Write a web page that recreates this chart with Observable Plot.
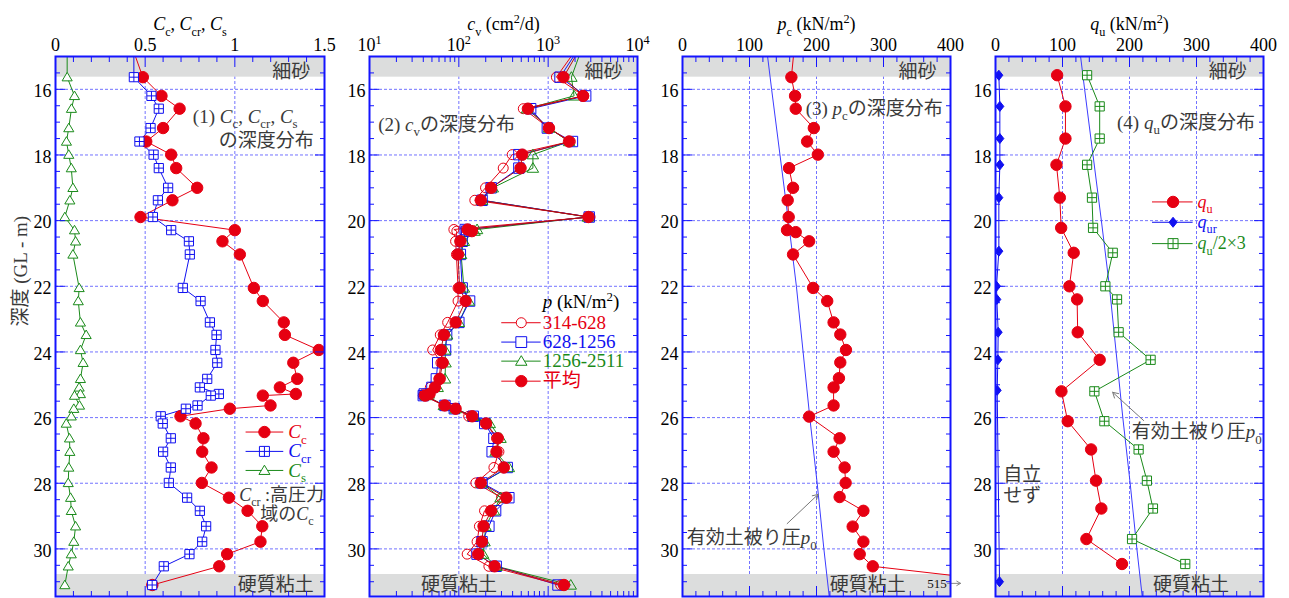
<!DOCTYPE html>
<html><head><meta charset="utf-8">
<script src="https://cdn.jsdelivr.net/npm/d3@7"></script>
<script src="https://cdn.jsdelivr.net/npm/@observablehq/plot@0.6"></script>
<style>
body{margin:0;background:#fff;}
#wrap{position:relative;width:1289px;height:598px;overflow:hidden;background:#fff;font-family:"Liberation Serif","Noto Sans CJK JP",serif;}
#wrap svg{position:absolute;top:0;font-family:"Liberation Serif","Noto Sans CJK JP",serif !important;}
</style></head><body><div id="wrap"></div>
<script>
// ---------------- data ----------------
const yTickLabels = [16, 18, 20, 22, 24, 26, 28, 30];
const bands = [{y1: 15, y2: 15.63, name: "細砂"}, {y1: 30.78, y2: 31.45, name: "硬質粘土"}];

// panel 1 : Cc, Ccr, Cs
const depth1 = [14.6,15.63,16.2,16.59,17.18,17.59,17.99,18.4,19.0,19.38,19.89,20.29,20.63,21.03,22.05,22.45,23.1,23.48,23.94,24.33,24.82,25.08,25.28,25.33,25.63,25.73,25.96,26.18,26.63,27.04,27.52,27.99,28.44,28.84,29.31,29.78,30.16,30.53,31.1];
const Cc  = [0.42,0.487,0.591,0.692,0.60,0.506,0.645,0.673,0.79,0.652,0.474,1.0,0.931,1.028,1.106,1.156,1.273,1.279,1.468,1.326,1.348,1.251,1.34,1.156,1.199,0.972,0.697,0.781,0.825,0.818,0.87,0.816,0.967,1.071,1.153,1.143,0.957,0.913,0.54];
const Ccr = [0.437,0.437,0.535,0.576,0.53,0.468,0.547,0.576,0.628,0.571,0.543,0.645,0.744,0.749,0.71,0.809,0.861,0.898,0.892,0.902,0.846,0.805,0.911,0.866,0.792,0.727,0.587,0.598,0.643,0.60,0.643,0.632,0.734,0.805,0.84,0.818,0.747,0.604,0.539];
const Cs  = [0.065,0.065,0.106,0.089,0.074,0.061,0.074,0.088,0.097,0.08,0.052,0.106,0.112,0.097,0.132,0.127,0.139,0.171,0.139,0.154,0.139,0.132,0.139,0.106,0.134,0.102,0.088,0.06,0.078,0.08,0.074,0.071,0.084,0.088,0.112,0.102,0.088,0.071,0.052];

// panel 2 : cv (cm2/d)
const depth2 = [14.6,15.63,16.2,16.59,17.18,17.59,17.99,18.4,19.0,19.38,19.89,20.27,20.32,20.63,21.03,22.05,22.45,23.1,23.48,23.94,24.33,24.82,25.08,25.28,25.33,25.63,25.73,25.96,26.18,26.63,27.04,27.52,27.99,28.44,28.84,29.31,29.78,30.16,30.53,31.1];
const cv314  = [2300,1236,2500,527,1021,1770,396,314,199,151,2943,88,95,92,94,98,98,75,62,51,63,60,48,41,40,68,92,129,202,264,281,247,155,300,194,170,160,124,217,1380];
const cv628  = [2400,1357,2630,637,979,1870,470,470,230,182,2880,118,122,109,104,109,132,100,73,71,58,56,50,41,40,70,89,145,195,247,236,348,182,363,258,217,182,160,262,1288];
const cv1256 = [2500,1820,1950,580,1021,1713,675,675,240,182,2780,160,150,114,106,114,129,100,74,70,71,70,58,46,43,68,92,145,222,293,258,363,178,293,247,199,194,187,264,1790];
const cvAvg  = [2450,1483,2460,593,1021,1713,513,491,230,176,2826,125,140,104,98,102,119,92,68,63,66,61,54,47,42,69.5,92,141,202,273,264,319,176,340,230,189,181,165,251,1503];
const cvSeries = ["314-628", "628-1256", "1256-2511", "平均"];

// panel 3 : pc
const depth3 = [14.6,15.63,16.2,16.59,17.18,17.59,17.99,18.4,19.0,19.38,19.89,20.29,20.35,20.63,21.03,22.05,22.45,23.1,23.47,23.94,24.32,24.8,25.08,25.63,25.97,26.63,27.04,27.52,27.99,28.42,28.84,29.32,29.78,30.16,30.53,31.07];
const pc = [167.5,162.5,168,169,196,186,202,159,165,157,158.5,156,169,189,165,195,216,225.5,235.5,244,235.5,233.5,225.5,225.5,189,234.5,225.5,242,243.5,234.5,270,254,270,264.5,284,515];

// effective overburden pressure p0
const p0Depth = [15,16,18,20,22,24,26,28,30,31.45];
const p0 = [127,133,145.5,158,170,180,190,201,211,219];

// panel 4 : qu
const depth4 = [15.57,16.52,17.5,18.3,19.3,20.22,20.98,22.0,22.4,23.4,24.24,25.2,26.11,26.97,27.92,28.77,29.7,30.46];
const qu = [92,104.4,104.4,91,96,98,116.7,110.3,121.8,122.7,155.5,98.4,107.8,142.7,150,158,135.7,188.8];
const quHalf3 = [136.7,155.5,155.5,136.7,144,145.6,175,164,181.4,183.8,231.5,147.6,162.5,213.6,226,235,203.8,283.2];
const depthQur = [15.57,16.52,17.5,18.3,19.3,20.93,22.0,22.4,23.4,24.24,25.17,31.0];
const qur = [5,6.5,6.5,6.5,5,5,1.5,2,4,3.5,2.5,6];

// ---------------- styles ----------------
const FONT = '"Liberation Serif","Noto Sans CJK JP",serif';
const RED = "#e60012", BLUE = "#1010f0", GREEN = "#1a8a1a", GRIDC = "#5a5aff", FRAMEC = "#1414ff", BAND = "#dcdddd", TXT = "#3a3a3a";
const H = 598, MT = 56, MB = 2, ML = 55, MR = 30;
const yDomain = [15, 31.45];
const yMinor = d3.range(15, 31.01, 0.5).filter(v => !yTickLabels.includes(v));
const gridStyle = {stroke: GRIDC, strokeOpacity: 0.85, strokeWidth: 1, strokeDasharray: "3,2"};

const sq = r => c => {c.moveTo(-r,-r);c.lineTo(r,-r);c.lineTo(r,r);c.lineTo(-r,r);c.closePath();};
const symSqPlus = {draw(c, s){const r = Math.sqrt(s/Math.PI); sq(r)(c); c.moveTo(-r,0);c.lineTo(r,0);c.moveTo(0,-r);c.lineTo(0,r);}};
const symSq = {draw(c, s){const r = Math.sqrt(s/Math.PI); sq(r)(c);}};
const symTri = {draw(c, s){const r = Math.sqrt(s/Math.PI); c.moveTo(0,-r*1.05);c.lineTo(r*1.1,r*0.8);c.lineTo(-r*1.1,r*0.8);c.closePath();}};
const symDia = {draw(c, s){const r = Math.sqrt(s/Math.PI); c.moveTo(0,-r);c.lineTo(r*0.8,0);c.lineTo(0,r);c.lineTo(-r*0.8,0);c.closePath();}};

function deco({xMajor, xMinor, xLabelTicks, xFmt, title}) {
  const tk = (axis, anchor, ticks, size) => axis({anchor, ticks, tickSize: -size, tickFormat: () => "", stroke: FRAMEC, strokeWidth: 1, label: null});
  return [
    Plot.frame({stroke: FRAMEC, strokeWidth: 2}),
    tk(Plot.axisX, "top", xMajor, 10), tk(Plot.axisX, "top", xMinor, 5),
    tk(Plot.axisX, "bottom", xMajor, 10), tk(Plot.axisX, "bottom", xMinor, 5),
    tk(Plot.axisY, "left", yTickLabels, 10), tk(Plot.axisY, "left", yMinor, 5),
    tk(Plot.axisY, "right", yTickLabels, 10), tk(Plot.axisY, "right", yMinor, 5),
    Plot.axisX({anchor: "top", ticks: xLabelTicks, tickSize: 0, tickPadding: 6, tickFormat: xFmt, fontSize: 18, fontFamily: FONT, fill: "#000", label: null}),
    Plot.axisY({anchor: "left", ticks: yTickLabels, tickSize: 0, tickPadding: 4, fontSize: 18, fontFamily: FONT, fill: "#000", label: null, dy: 2}),
    Plot.text([title], {text: d => d, frameAnchor: "top", dy: -39, fontSize: 18, fontFamily: FONT, fill: "#000"})
  ];
}
const txt = (s, x, y, o = {}) => Plot.text([s], {text: d => d, x, y, fontSize: 19, fontFamily: FONT, fill: TXT, ...o});

function common(frameW, x) {
  return {width: ML + frameW + MR, height: H, marginLeft: ML, marginRight: MR, marginTop: MT, marginBottom: MB,
    style: {background: "transparent", overflow: "visible"}, x, y: {domain: yDomain, reverse: true}};
}
function leg(rows, x1, x2, xm, tdx, fs) {
  return rows.flatMap(([label, color, y, sym, fill, r]) => [
    Plot.link([0], {x1, x2, y1: y, y2: y, stroke: color, strokeWidth: 1}),
    Plot.dot([0], {x: xm, y, symbol: sym, fill, stroke: color, strokeWidth: 1, r}),
    Plot.text([label], {text: d => d, x: x2, y, dx: tdx, textAnchor: "start", fill: color, fontSize: fs, fontFamily: FONT})
  ]);
}
const ln = (data, xv, color, o = {}) => Plot.line(data, {x: (d, i) => xv[i], y: d => d, stroke: color, strokeWidth: 1, clip: true, ...o});
const pts = (data, xv, o) => Plot.dot(data, {x: (d, i) => xv[i], y: d => d, clip: true, strokeWidth: 1, ...o});

// ---------------- panel 1 ----------------
const p1 = Plot.plot({...common(269, {domain: [0, 1.5]}), marks: [
  Plot.gridX({ticks: [0.5, 1], ...gridStyle}), Plot.gridY({ticks: yTickLabels, ...gridStyle}),
  Plot.rect(bands, {x1: 0, x2: 1.5, y1: "y1", y2: "y2", fill: BAND}),
  ln(depth1, Cs, GREEN), ln(depth1, Cc, RED), ln(depth1, Ccr, BLUE),
  pts(depth1, Cc, {symbol: "circle", r: 5.7, fill: RED, stroke: RED}),
  pts(depth1, Ccr, {symbol: symSqPlus, r: 4.6, fill: "white", stroke: BLUE}),
  pts(depth1, Cs, {symbol: symTri, r: 4.6, fill: "white", stroke: GREEN}),
  txt("細砂", 1.42, 15.48, {textAnchor: "end"}), txt("硬質粘土", 1.44, 31.1, {textAnchor: "end"}),
  txt("(1) <i>C</i><sub>c</sub>, <i>C</i><sub>cr</sub>, <i>C</i><sub>s</sub>", 1.35, 16.83, {textAnchor: "end"}),
  txt("の深度分布", 1.44, 17.56, {textAnchor: "end"}),
  ...leg([["<i>C</i><sub>c</sub>", RED, 26.44, "circle", RED, 5.7],
          ["<i>C</i><sub>cr</sub>", BLUE, 27.03, symSqPlus, "white", 5],
          ["<i>C</i><sub>s</sub>", GREEN, 27.61, symTri, "white", 5]], 1.06, 1.27, 1.165, 5, 19),
  txt("<i>C</i><sub>cr</sub> :高圧力", 1.024, 28.36, {textAnchor: "start", fontSize: 18}),
  txt("域の<i>C</i><sub>c</sub>", 1.44, 28.94, {textAnchor: "end", fontSize: 18}),
  Plot.text(["深度 (GL - m)"], {text: d => d, frameAnchor: "left", rotate: -90, dx: -35, fontSize: 19, fontFamily: FONT, fill: TXT}),
  ...deco({xMajor: [0, 0.5, 1, 1.5], xMinor: d3.range(0.1, 1.45, 0.1).filter(v => Math.abs(v - 0.5) > 1e-6 && Math.abs(v - 1) > 1e-6),
           xLabelTicks: [0, 0.5, 1, 1.5], xFmt: d => String(d), title: "<i>C</i><sub>c</sub>, <i>C</i><sub>cr</sub>, <i>C</i><sub>s</sub>"})
]});

// ---------------- panel 2 ----------------
const logMinor = [1, 2, 3].flatMap(e => d3.range(2, 10).map(k => k * 10 ** e));
const p2 = Plot.plot({...common(268, {type: "log", domain: [10, 10000]}), marks: [
  Plot.gridX({ticks: [100, 1000], ...gridStyle}), Plot.gridY({ticks: yTickLabels, ...gridStyle}),
  Plot.rect(bands, {x1: 10, x2: 10000, y1: "y1", y2: "y2", fill: BAND}),
  ln(depth2, cv1256, GREEN), ln(depth2, cv628, BLUE), ln(depth2, cv314, RED), ln(depth2, cvAvg, "#b01010"),
  pts(depth2, cv314, {symbol: "circle", r: 5, fill: "none", stroke: RED}),
  pts(depth2, cv628, {symbol: symSq, r: 5.2, fill: "none", stroke: BLUE}),
  pts(depth2, cv1256, {symbol: symTri, r: 5.2, fill: "none", stroke: GREEN}),
  pts(depth2, cvAvg, {symbol: "circle", r: 5.7, fill: RED, stroke: RED}),
  txt("細砂", 6800, 15.48, {textAnchor: "end"}), txt("硬質粘土", 37.8, 31.1, {textAnchor: "start"}),
  txt("(2) <i>c</i><sub>v</sub>の深度分布", 12.5, 17.07, {textAnchor: "start"}),
  txt("<i>p</i> (kN/m<sup>2</sup>)", 824, 22.48, {textAnchor: "start", dx: 2, fill: "#000"}),
  ...leg([[cvSeries[0], RED, 23.11, "circle", "white", 5],
          [cvSeries[1], BLUE, 23.70, symSq, "white", 5.4],
          [cvSeries[2], GREEN, 24.28, symTri, "white", 5.2],
          [cvSeries[3], RED, 24.89, "circle", RED, 5.7]], 298.5, 824, 500, 2, 19),
  ...deco({xMajor: [10, 100, 1000, 10000], xMinor: logMinor, xLabelTicks: [10, 100, 1000, 10000],
           xFmt: d => "10<sup>" + Math.round(Math.log10(d)) + "</sup>", title: "<i>c</i><sub>v</sub> (cm<sup>2</sup>/d)"})
]});

// ---------------- panel 3 ----------------
const minor20 = d3.range(20, 400, 20).filter(v => v % 100 !== 0);
const p3 = Plot.plot({...common(268, {domain: [0, 400]}), marks: [
  Plot.gridX({ticks: [100, 200, 300], ...gridStyle}), Plot.gridY({ticks: yTickLabels, ...gridStyle}),
  Plot.rect(bands, {x1: 0, x2: 400, y1: "y1", y2: "y2", fill: BAND}),
  ln(p0Depth, p0, "#3c3cff"),
  ln(depth3, pc, RED),
  pts(depth3, pc, {symbol: "circle", r: 5.7, fill: RED, stroke: RED}),
  txt("細砂", 379, 15.48, {textAnchor: "end"}), txt("硬質粘土", 219.6, 31.1, {textAnchor: "start"}),
  txt("(3) <i>p</i><sub>c</sub>の深度分布", 183.8, 16.59, {textAnchor: "start"}),
  txt("有効土被り圧<i>p</i><sub>0</sub>", 6.4, 29.68, {textAnchor: "start"}),
  Plot.arrow([0], {x1: 156.2, y1: 29.23, x2: 202.4, y2: 28.34, stroke: "#777", strokeWidth: 1, headLength: 9}),
  txt("515", 394.3, 31.05, {textAnchor: "end", fontSize: 13, fill: "#111"}),
  Plot.arrow([0], {x1: 395.5, y1: 31.05, x2: 415, y2: 31.05, stroke: "#888", strokeWidth: 1, headLength: 7}),
  ...deco({xMajor: [0, 100, 200, 300, 400], xMinor: minor20, xLabelTicks: [0, 100, 200, 300, 400],
           xFmt: d => String(d), title: "<i>p</i><sub>c</sub> (kN/m<sup>2</sup>)"})
]});

// ---------------- panel 4 ----------------
const p4 = Plot.plot({...common(268, {domain: [0, 400]}), marks: [
  Plot.gridX({ticks: [100, 200, 300], ...gridStyle}), Plot.gridY({ticks: yTickLabels, ...gridStyle}),
  Plot.rect(bands, {x1: 0, x2: 400, y1: "y1", y2: "y2", fill: BAND}),
  ln(p0Depth, p0, "#3c3cff"),
  ln(depthQur, qur, BLUE), ln(depth4, qu, RED), ln(depth4, quHalf3, GREEN),
  pts(depthQur, qur, {symbol: symDia, r: 5, fill: BLUE, stroke: BLUE}),
  pts(depth4, qu, {symbol: "circle", r: 5.7, fill: RED, stroke: RED}),
  pts(depth4, quHalf3, {symbol: symSqPlus, r: 4.6, fill: "white", stroke: GREEN}),
  txt("細砂", 375.2, 15.48, {textAnchor: "end"}), txt("硬質粘土", 235.1, 31.1, {textAnchor: "start"}),
  txt("(4) <i>q</i><sub>u</sub>の深度分布", 181.4, 17.01, {textAnchor: "start"}),
  txt("有効土被り圧<i>p</i><sub>0</sub>", 203.3, 26.44, {textAnchor: "start"}),
  Plot.arrow([0], {x1: 221.1, y1: 26.09, x2: 174.9, y2: 25.23, stroke: "#777", strokeWidth: 1, headLength: 9}),
  txt("自立\nせず", 11.5, 28.05, {textAnchor: "start", lineHeight: 1.08}),
  ...leg([["<i>q</i><sub>u</sub>", RED, 19.43, "circle", RED, 5.7],
          ["<i>q</i><sub>ur</sub>", BLUE, 20.05, symDia, BLUE, 5],
          ["<i>q</i><sub>u</sub>/2×3", GREEN, 20.70, symSqPlus, "white", 5]], 233.6, 294.2, 265, 5, 18),
  ...deco({xMajor: [0, 100, 200, 300, 400], xMinor: minor20, xLabelTicks: [0, 100, 200, 300, 400],
           xFmt: d => String(d), title: "<i>q</i><sub>u</sub> (kN/m<sup>2</sup>)"})
]});

// ---------------- layout ----------------
const wrap = document.getElementById("wrap");
[[p1, 55], [p2, 369], [p3, 682], [p4, 995]].forEach(([svg, frameLeft]) => {
  svg.style.left = (frameLeft - ML) + "px";
  svg.style.position = "absolute";
  svg.style.fontFamily = FONT;
  svg.setAttribute("font-family", FONT);
  wrap.appendChild(svg);
  rich(svg);
});

// convert <i>, <sub>, <sup> markup into SVG tspans
function rich(svg) {
  const NS = "http://www.w3.org/2000/svg";
  svg.querySelectorAll("text, tspan").forEach(el => {
    if (el.children.length) return;
    const s = el.textContent;
    if (!s.includes("<")) return;
    const fs = parseFloat(getComputedStyle(el).fontSize) || 18;
    el.textContent = "";
    let it = false, mode = null, shift = 0;
    for (const p of s.split(/(<\/?(?:i|sub|sup)>)/)) {
      if (!p) continue;
      const m = p.match(/^<(\/?)(i|sub|sup)>$/);
      if (m) { const on = !m[1]; if (m[2] === "i") it = on; else mode = on ? m[2] : null; continue; }
      const t = document.createElementNS(NS, "tspan");
      t.textContent = p;
      if (it) t.setAttribute("font-style", "italic");
      const target = mode === "sub" ? fs * 0.3 : mode === "sup" ? -fs * 0.38 : 0;
      if (mode) t.setAttribute("font-size", (fs * 0.68).toFixed(1));
      if (target !== shift) { t.setAttribute("dy", (target - shift).toFixed(2)); shift = target; }
      el.appendChild(t);
    }
  });
}
</script>
</body></html>
